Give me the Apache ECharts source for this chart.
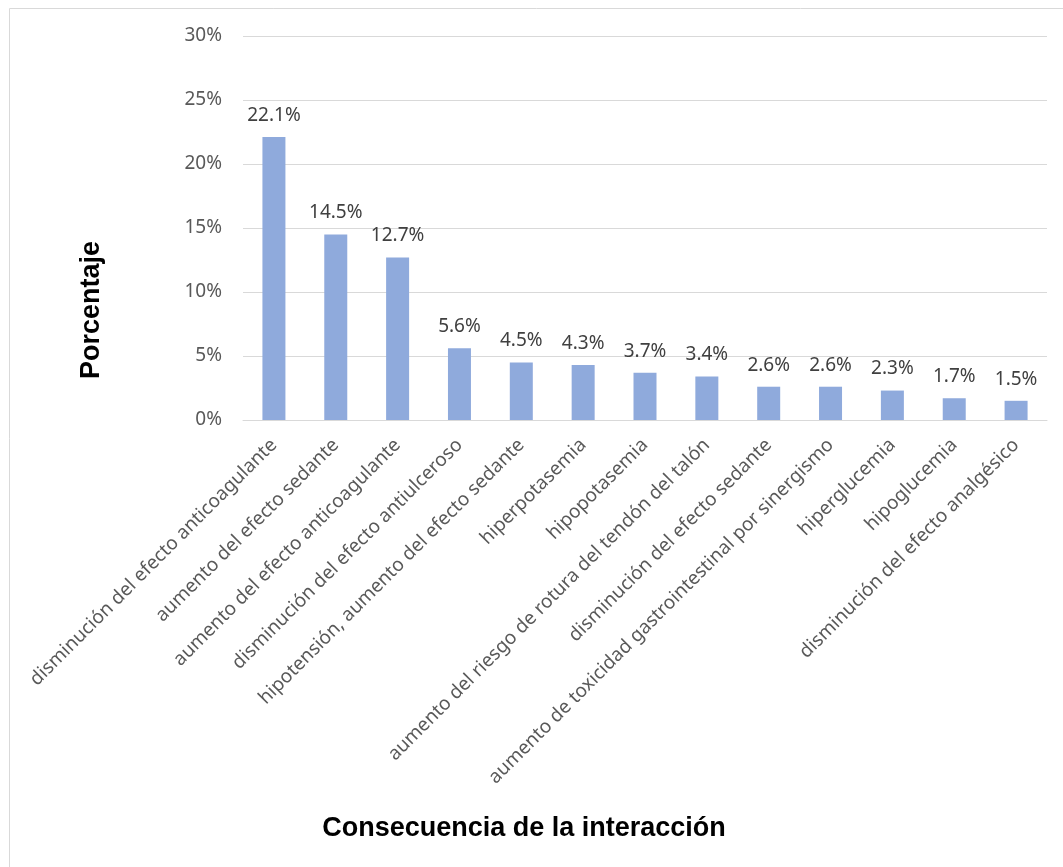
<!DOCTYPE html>
<html><head><meta charset="utf-8">
<script src="https://cdn.jsdelivr.net/npm/echarts@6/dist/echarts.min.js"></script>
<style>html,body{margin:0;padding:0;background:#fff}#c{width:1063px;height:867px}</style>
</head><body><div id="c"></div>
<script>
const categories = [
  "disminución del efecto anticoagulante",
  "aumento del efecto sedante",
  "aumento del efecto anticoagulante",
  "disminución del efecto antiulceroso",
  "hipotensión, aumento del efecto sedante",
  "hiperpotasemia",
  "hipopotasemia",
  "aumento del riesgo de rotura del tendón del talón",
  "disminución del efecto sedante",
  "aumento de toxicidad gastrointestinal por sinergismo",
  "hiperglucemia",
  "hipoglucemia",
  "disminución del efecto analgésico"
];
const values = [22.1, 14.5, 12.7, 5.6, 4.5, 4.3, 3.7, 3.4, 2.6, 2.6, 2.3, 1.7, 1.5];
const yTicks = [0, 5, 10, 15, 20, 25, 30];

const chart = echarts.init(document.getElementById('c'));
const font = "'Noto Sans', 'Open Sans', sans-serif";
chart.setOption({
  animation: false,
  graphic: [
    {type: 'rect', shape: {x: 9.5, y: 8.5, width: 1100, height: 900},
     style: {fill: null, stroke: '#d9d9d9', lineWidth: 1}, silent: true},
    {type: 'text', x: 92, y: 310, rotation: Math.PI / 2,
     style: {text: 'Porcentaje', font: "bold 27px 'Liberation Sans', Arial, sans-serif", fill: '#000', align: 'center', verticalAlign: 'middle'}},
    {type: 'text', x: 524, y: 829,
     style: {text: 'Consecuencia de la interacción', font: "bold 27px 'Liberation Sans', Arial, sans-serif", fill: '#000', align: 'center', verticalAlign: 'middle'}}
  ],
  grid: {left: 243, right: 16, top: 36, bottom: 447},
  xAxis: {
    type: 'category', data: categories,
    axisLine: {lineStyle: {color: '#d9d9d9'}},
    axisTick: {show: false},
    axisLabel: {rotate: 45, interval: 0, fontFamily: font, fontSize: 19, color: '#595959', margin: 22}
  },
  yAxis: {
    type: 'value', min: yTicks[0], max: yTicks[yTicks.length - 1], interval: 5,
    axisLine: {show: false}, axisTick: {show: false},
    splitLine: {lineStyle: {color: '#d9d9d9'}},
    axisLabel: {formatter: '{value}%', fontFamily: font, fontSize: 19, color: '#595959', margin: 21}
  },
  series: [{
    type: 'bar', data: values, barWidth: 23,
    itemStyle: {color: '#8faadc'},
    label: {show: true, position: 'top', distance: 12, formatter: p => p.value.toFixed(1) + '%',
      fontFamily: font, fontSize: 19, color: '#404040'}
  }]
});
</script></body></html>
